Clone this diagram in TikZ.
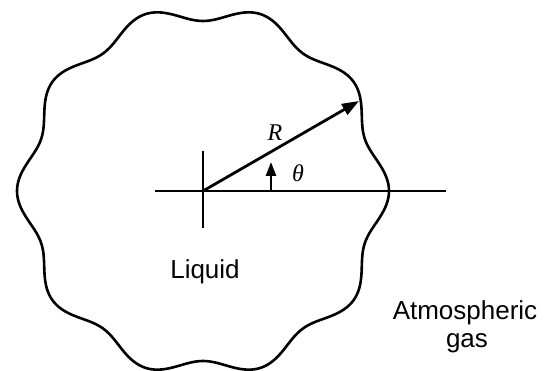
\documentclass[tikz,border=0pt]{standalone}
\usepackage{fontspec}
\setmainfont{Liberation Sans}
\newfontfamily\timesfont{Liberation Serif}
\usetikzlibrary{arrows.meta}
\begin{document}
\begin{tikzpicture}[x=1pt,y=-1pt,
  axis/.style={line width=2.6pt},
  outline/.style={line width=2.6pt, line join=round},
  vec/.style={line width=2.8pt, -{Triangle[length=17pt,width=12pt]}},
  anglemark/.style={line width=2.6pt, -{Triangle[length=14pt,width=10pt]}},
  lbl/.style={font=\fontsize{26}{30}\selectfont, inner sep=0pt},
  sym/.style={font=\timesfont\itshape\fontsize{24}{28}\selectfont, inner sep=0pt}]
\useasboundingbox (0,0) rectangle (544,371);
% interface
\draw[outline] plot[domain=0:360, samples=361, smooth]
  ({203+(178+8*cos(10*\x))*cos(\x)}, {191+(178+8*cos(10*\x))*sin(\x)}) -- cycle;
% axes
\coordinate (O) at (203,191);
\coordinate (hl) at (155,191);
\coordinate (hr) at (446,191);
\coordinate (vt) at (203,151);
\coordinate (vb) at (203,228);
\draw[axis] (hl) -- (hr);
\draw[axis] (vt) -- (vb);
% radius vector
\coordinate (T) at (359,101);
\draw[vec] (O) -- (T);
% angle mark
\coordinate (a0) at (271,191);
\coordinate (a1) at (271,162);
\draw[anglemark] (a0) -- (a1);
% labels
\node[sym] (R) at (275,133) {R};
\node[sym] (th) at (298,173) {θ};
\node[lbl, anchor=base] (liq) at (205,279) {Liquid};
\node[lbl, anchor=base] (atm) at (465,320) {Atmospheric};
\node[lbl, anchor=base] (gas) at (467,348) {gas};
\end{tikzpicture}
\end{document}
